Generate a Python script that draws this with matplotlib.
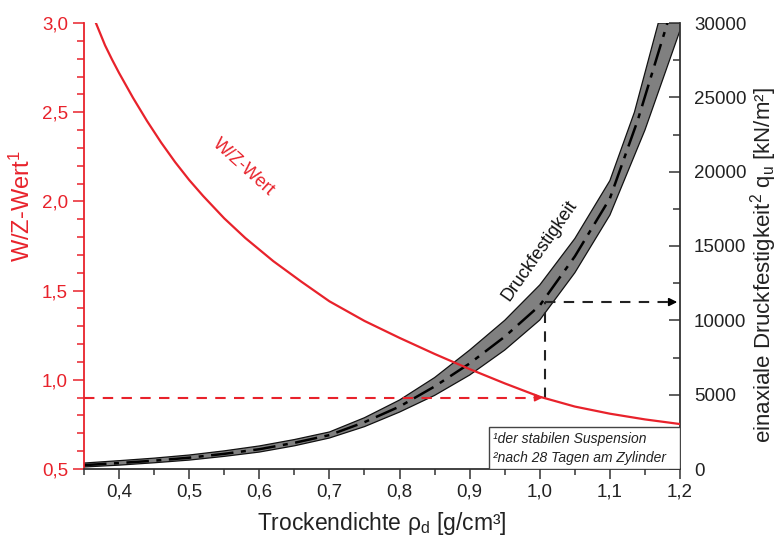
import matplotlib
matplotlib.use("Agg")
import matplotlib.pyplot as plt
from matplotlib.patches import Rectangle
from matplotlib.ticker import MultipleLocator, FuncFormatter

plt.rcParams['font.family'] = ['Liberation Sans', 'DejaVu Sans']
plt.rcParams['mathtext.default'] = 'regular'

RED = '#e8222b'
DARK = '#333333'

# W/Z curve (left axis)
wz_x = [0.367, 0.38, 0.39, 0.40, 0.42, 0.44, 0.46, 0.48, 0.50, 0.52, 0.55, 0.58, 0.62, 0.66,
        0.70, 0.75, 0.80, 0.85, 0.90, 0.95, 1.00, 1.05, 1.10, 1.15, 1.20]
wz_y = [3.00, 2.875, 2.795, 2.72, 2.58, 2.45, 2.33, 2.22, 2.12, 2.03, 1.905, 1.795, 1.665, 1.55,
        1.44, 1.33, 1.235, 1.145, 1.06, 0.98, 0.905, 0.85, 0.81, 0.778, 0.752]

# Druckfestigkeit band (right axis)
up_x = [0.35, 0.40, 0.45, 0.50, 0.55, 0.60, 0.65, 0.70, 0.75, 0.80, 0.85, 0.90, 0.95, 1.00, 1.05, 1.10, 1.135, 1.169]
up_y = [400, 560, 730, 940, 1220, 1550, 1980, 2490, 3450, 4640, 6150, 8000, 10000, 12380, 15500, 19400, 24000, 30000]
lo_x = [0.35, 0.40, 0.45, 0.50, 0.55, 0.60, 0.65, 0.70, 0.75, 0.80, 0.85, 0.90, 0.95, 1.00, 1.05, 1.10, 1.15, 1.20, 1.20]
lo_y = [135, 260, 420, 600, 850, 1140, 1560, 2085, 2850, 3830, 4950, 6320, 8000, 10020, 13200, 17080, 22800, 29500, 30000]
mid_x = [0.35, 0.40, 0.45, 0.50, 0.55, 0.60, 0.65, 0.70, 0.75, 0.80, 0.85, 0.90, 0.95, 1.00, 1.05, 1.10, 1.14, 1.182]
mid_y = [260, 400, 560, 760, 1020, 1330, 1760, 2280, 3150, 4200, 5550, 7100, 8900, 11000, 14300, 18200, 23500, 30000]

# reading example
rho_ex = 1.008
wz_ex = 0.9
qu_ex = 11230

fig = plt.figure(figsize=(7.79, 5.40), dpi=100)
ax = fig.add_axes([84/779, 71/540, 596/779, 446/540])
ax2 = ax.twinx()
ax.set_zorder(ax2.get_zorder() + 1)
ax.patch.set_visible(False)

# band
poly_x = up_x + lo_x[::-1]
poly_y = up_y + lo_y[::-1]
ax2.fill(poly_x, poly_y, facecolor='#808080', edgecolor='#111111', lw=0.9, zorder=2)
ax2.plot(mid_x, mid_y, color='black', lw=1.8, dashes=[9, 3, 2, 3], zorder=3)

# conversion of W/Z 0.9 onto right axis scale
wz_lo, wz_hi = 0.5, 3.0
q_lo, q_hi = 0, 30000
q_of_wz = (wz_ex - wz_lo) / (wz_hi - wz_lo) * (q_hi - q_lo)
ax2.plot([rho_ex, rho_ex], [q_of_wz, qu_ex], color='#222222', lw=1.5, dashes=[5, 4], zorder=4)
ax2.plot([rho_ex, 1.19], [qu_ex, qu_ex], color='#222222', lw=1.5, dashes=[5, 4], zorder=4)
ax2.annotate('', xy=(1.2, qu_ex), xytext=(1.18, qu_ex),
             arrowprops=dict(arrowstyle='-|>', color='black', lw=1.2, mutation_scale=12), zorder=5)

ax2.text(0.999, 14700, 'Druckfestigkeit', rotation=55, ha='center', va='center',
         fontsize=13, color='#111111', rotation_mode='anchor')

# red curve
ax.plot(wz_x, wz_y, color=RED, lw=1.6, zorder=5)
ax.plot([0.35, rho_ex - 0.012], [wz_ex, wz_ex], color=RED, lw=1.5, dashes=[5, 4], zorder=5)
ax.annotate('', xy=(rho_ex, wz_ex), xytext=(rho_ex - 0.02, wz_ex),
            arrowprops=dict(arrowstyle='-|>', color=RED, lw=1.2, mutation_scale=11), zorder=6)
ax.text(0.577, 2.19, 'W/Z-Wert', rotation=-42, ha='center', va='center',
        fontsize=13, color=RED, rotation_mode='anchor')

# note box
ax.add_patch(Rectangle((0.68, 0.0), 0.32, 0.094, transform=ax.transAxes,
                       facecolor='white', edgecolor='#444444', lw=1.0, zorder=7))
ax.text(0.686, 0.068, '¹der stabilen Suspension', transform=ax.transAxes, fontsize=10,
        style='italic', va='center', ha='left', zorder=8, color='#222222')
ax.text(0.686, 0.024, '²nach 28 Tagen am Zylinder', transform=ax.transAxes, fontsize=10,
        style='italic', va='center', ha='left', zorder=8, color='#222222')

# axes limits
ax.set_xlim(0.35, 1.2)
ax.set_ylim(wz_lo, wz_hi)
ax2.set_ylim(q_lo, q_hi)

comma = FuncFormatter(lambda v, p: f'{v:.1f}'.replace('.', ','))
ax.xaxis.set_major_locator(MultipleLocator(0.1))
ax.xaxis.set_minor_locator(MultipleLocator(0.05))
ax.xaxis.set_major_formatter(comma)
ax.yaxis.set_major_locator(MultipleLocator(0.5))
ax.yaxis.set_minor_locator(MultipleLocator(0.1))
ax.yaxis.set_major_formatter(comma)
ax2.yaxis.set_major_locator(MultipleLocator(5000))
ax2.yaxis.set_minor_locator(MultipleLocator(2500))

for s in ['top', 'right']:
    ax.spines[s].set_visible(False)
ax.spines['left'].set_color(RED)
ax.spines['left'].set_linewidth(1.3)
ax.spines['bottom'].set_color(DARK)
ax.spines['bottom'].set_linewidth(1.3)
for s in ['top', 'left', 'bottom']:
    ax2.spines[s].set_visible(False)
ax2.spines['right'].set_color(DARK)
ax2.spines['right'].set_linewidth(1.3)

ax.tick_params(axis='y', which='both', colors=RED, direction='out', labelsize=13.5, width=1.1)
ax.tick_params(axis='y', which='major', length=8)
ax.tick_params(axis='y', which='minor', length=5)
ax.tick_params(axis='x', which='both', colors=DARK, direction='out', labelsize=13.5, width=1.1, labelcolor='#222222')
ax.tick_params(axis='x', which='major', length=7)
ax.tick_params(axis='x', which='minor', length=4)
ax2.tick_params(axis='y', which='both', colors=DARK, direction='in', labelsize=13.5, width=1.1, labelcolor='#222222')
ax2.tick_params(axis='y', which='major', length=8, pad=10)
ax2.tick_params(axis='y', which='minor', length=5)

ax.set_xlabel('Trockendichte ρ$_d$ [g/cm³]', fontsize=16.5, color='#222222', labelpad=7)
ax.set_ylabel('W/Z-Wert$^1$', fontsize=17, color=RED)
ax.yaxis.set_label_coords(-0.082, 0.59)
ax2.set_ylabel('einaxiale Druckfestigkeit$^2$ q$_u$ [kN/m²]', fontsize=16, color='#222222')
ax2.yaxis.set_label_coords(1.114, 0.457)

fig.savefig('out.png', dpi=100)
